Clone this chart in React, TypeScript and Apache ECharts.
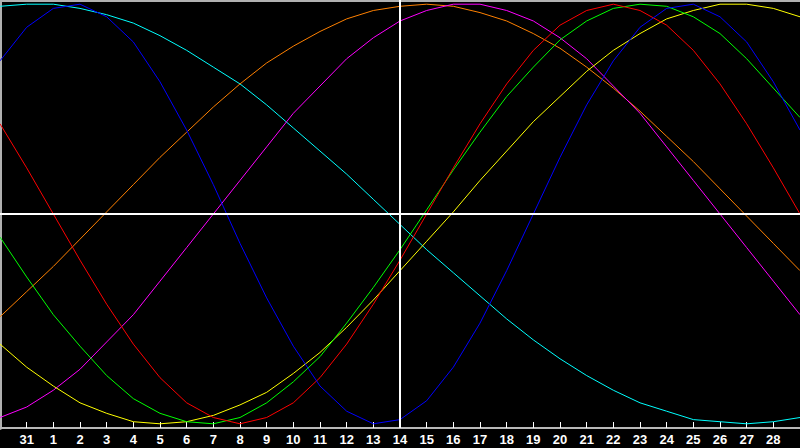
import { useEffect, useRef } from 'react'
import * as echarts from 'echarts'

// days shown: Jan 30 .. Mar 1 (edge labels hidden)
const days = ['30', '31', '1', '2', '3', '4', '5', '6', '7', '8', '9', '10', '11', '12', '13', '14',
  '15', '16', '17', '18', '19', '20', '21', '22', '23', '24', '25', '26', '27', '28', '1']
const today = '14'

const physical = [73, 89, 98, 100, 94, 82, 63, 40, 14, -14, -40, -63, -82, -94, -100, -98,
  -89, -73, -52, -27, 0, 27, 52, 73, 89, 98, 100, 94, 82, 63, 40]
const emotional = [43, 22, 0, -22, -43, -62, -78, -90, -97, -100, -97, -90, -78, -62, -43, -22,
  0, 22, 43, 62, 78, 90, 97, 100, 97, 90, 78, 62, 43, 22, 0]
const intellectual = [-11, -30, -48, -63, -77, -88, -95, -99, -100, -97, -90, -80, -68, -52, -35, -17,
  2, 21, 39, 56, 70, 83, 92, 98, 100, 99, 94, 86, 74, 60, 46]
const spiritual = [99, 100, 100, 98, 95, 91, 85, 78, 70, 62, 52, 41, 30, 19, 7, -5,
  -17, -28, -39, -50, -60, -69, -77, -84, -90, -94, -98, -99, -100, -99, -97]
const aesthetic = [-62, -73, -82, -90, -95, -99, -100, -99, -96, -91, -85, -76, -66, -54, -41, -27,
  -13, 1, 16, 30, 44, 56, 68, 78, 86, 93, 97, 100, 100, 98, 94]
const awareness = [-49, -37, -25, -12, 1, 14, 27, 39, 51, 62, 72, 80, 87, 93, 97, 99,
  100, 99, 96, 92, 86, 79, 70, 60, 49, 37, 25, 12, -1, -14, -27]
const intuitive = [-97, -92, -84, -74, -61, -48, -32, -16, 0, 16, 32, 48, 61, 74, 84, 92,
  97, 100, 100, 97, 92, 84, 74, 61, 48, 32, 16, 0, -16, -32, -48]

const curves: [string, number[], string][] = [
  ['spiritual', spiritual, '#00ffff'],
  ['awareness', awareness, '#ff8000'],
  ['intuitive', intuitive, '#ff00ff'],
  ['aesthetic', aesthetic, '#ffff00'],
  ['intellectual', intellectual, '#00ff00'],
  ['emotional', emotional, '#ff0000'],
  ['physical', physical, '#0000ff'],
]

const lastIdx = days.length - 1
const hideEdges = (i: number) => i > 0 && i < lastIdx

export default function App() {
  const ref = useRef<HTMLDivElement>(null)

  useEffect(() => {
    document.body.style.margin = '0'
    document.body.style.background = '#000'
    if (!ref.current) return
    const chart = echarts.init(ref.current, null, { renderer: 'svg' })
    chart.setOption({
      animation: false,
      backgroundColor: '#000',
      grid: { left: 0, right: 0, top: -1, bottom: 20 },
      xAxis: [
        {
          type: 'category',
          data: days,
          boundaryGap: false,
          axisLine: { show: true, onZero: false, lineStyle: { color: '#b8b8b8', width: 2 } },
          axisTick: {
            show: true,
            inside: true,
            length: 6,
            interval: (i: number) => hideEdges(i),
            lineStyle: { color: '#ffffff', width: 1 },
          },
          axisLabel: {
            interval: (i: number) => hideEdges(i),
            color: '#ffffff',
            fontFamily: 'Liberation Sans',
            fontWeight: 'bold',
            fontSize: 13,
            margin: 5,
          },
          splitLine: { show: false },
        },
        {
          type: 'category',
          data: days,
          boundaryGap: false,
          position: 'top',
          axisLine: { show: true, onZero: false, lineStyle: { color: '#b0b0b0', width: 3 } },
          axisTick: { show: false },
          axisLabel: { show: false },
        },
      ],
      yAxis: {
        type: 'value',
        min: -102,
        max: 102,
        axisLine: { show: true, onZero: false, lineStyle: { color: '#b0b0b0', width: 4 } },
        axisTick: { show: false },
        axisLabel: { show: false },
        splitLine: { show: false },
      },
      series: [
        ...curves.map(([name, data, color]) => ({
          name,
          type: 'line',
          data,
          symbol: 'none',
          lineStyle: { color, width: 1 },
          itemStyle: { color },
          z: 3,
        })),
        {
          name: 'marks',
          type: 'line',
          data: [],
          silent: true,
          z: 2,
          markLine: {
            symbol: 'none',
            silent: true,
            label: { show: false },
            lineStyle: { color: '#ffffff', width: 2, type: 'solid' },
            data: [{ xAxis: today }, { yAxis: 0 }],
          },
        },
      ],
    })
    return () => chart.dispose()
  }, [])

  return <div ref={ref} style={{ width: 800, height: 448 }} />
}
